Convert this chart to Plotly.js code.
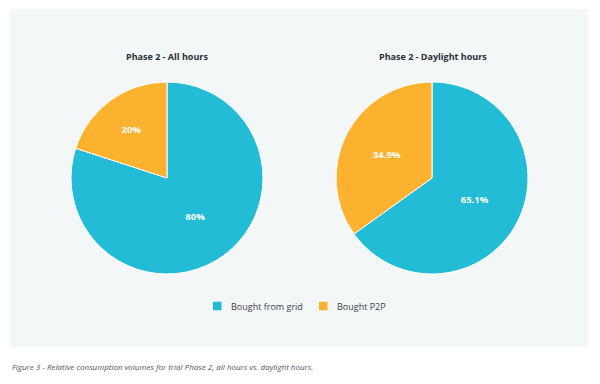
<!DOCTYPE html>
<html>
<head>
<meta charset="utf-8">
<script src="https://cdn.plot.ly/plotly-3.0.1.min.js"></script>
<style>html,body{margin:0;padding:0;background:#fff;}#chart{width:600px;height:384px;}</style>
</head>
<body>
<div id="chart"></div>
<script>
const categories = ["Bought from grid", "Bought P2P"];
const allHoursValues = [80, 20];
const daylightValues = [65.1, 34.9];
const chartTitles = ["Phase 2 - All hours", "Phase 2 - Daylight hours"];
const captionText = "Figure 3 - Relative consumption volumes for trial Phase 2, all hours vs. daylight hours.";
const colors = ["#22bcd6", "#fdb22f"];

const FONT = "'Open Sans', sans-serif";
const W = 600, H = 384;
const px = x => x / W;
const py = y => 1 - y / H;

function pieTrace(values, domainX) {
  return {
    type: "pie",
    labels: categories,
    values: values,
    sort: false,
    direction: "clockwise",
    rotation: 0,
    domain: {x: domainX, y: [py(274), py(82)]},
    marker: {colors: colors, line: {color: "#ffffff", width: 1}},
    textinfo: "percent",
    textposition: "inside",
    insidetextorientation: "horizontal",
    textfont: {family: FONT, size: 9.5, color: "#ffffff", weight: "bold"},
    hoverinfo: "label+percent",
    showlegend: false
  };
}

const data = [
  pieTrace(allHoursValues, [px(71), px(263)]),
  pieTrace(daylightValues, [px(336), px(528)])
];

// custom legend built from categories / colors
const legendSymbolX = [213, 319];
const legendY = 306;
const legendShapes = categories.map((c, i) => ({
  type: "rect", xref: "paper", yref: "paper",
  x0: px(legendSymbolX[i]), x1: px(legendSymbolX[i] + 8.5),
  y0: py(legendY + 4.25), y1: py(legendY - 4.25),
  fillcolor: colors[i], line: {width: 0}
}));
const legendLabels = categories.map((c, i) => ({
  text: c, x: px(legendSymbolX[i] + 16), y: py(legendY), xref: "paper", yref: "paper",
  showarrow: false, xanchor: "left", yanchor: "middle",
  font: {family: FONT, size: 9, color: "#3a3f48"}
}));

const layout = {
  width: W, height: H,
  margin: {l: 0, r: 0, t: 0, b: 0},
  paper_bgcolor: "#ffffff",
  font: {family: FONT, color: "#2a2f3a"},
  showlegend: false,
  shapes: [{
    type: "rect", xref: "paper", yref: "paper",
    x0: px(10), x1: px(588), y0: py(347), y1: py(9),
    fillcolor: "#f3f7f8", line: {width: 0}, layer: "below"
  }].concat(legendShapes),
  annotations: [
    {text: "<b>" + chartTitles[0] + "</b>", x: px(167), y: py(56), xref: "paper", yref: "paper", showarrow: false, xanchor: "center", yanchor: "middle", font: {family: FONT, size: 9, color: "#2a2f3a"}},
    {text: "<b>" + chartTitles[1] + "</b>", x: px(433), y: py(56), xref: "paper", yref: "paper", showarrow: false, xanchor: "center", yanchor: "middle", font: {family: FONT, size: 9, color: "#2a2f3a"}},
    {text: "<i>" + captionText + "</i>", x: px(10), y: py(366), xref: "paper", yref: "paper", showarrow: false, xanchor: "left", yanchor: "middle", font: {family: FONT, size: 8, color: "#4f545d"}}
  ].concat(legendLabels)
};

Plotly.newPlot("chart", data, layout, {displayModeBar: false, staticPlot: true});
</script>
</body>
</html>
